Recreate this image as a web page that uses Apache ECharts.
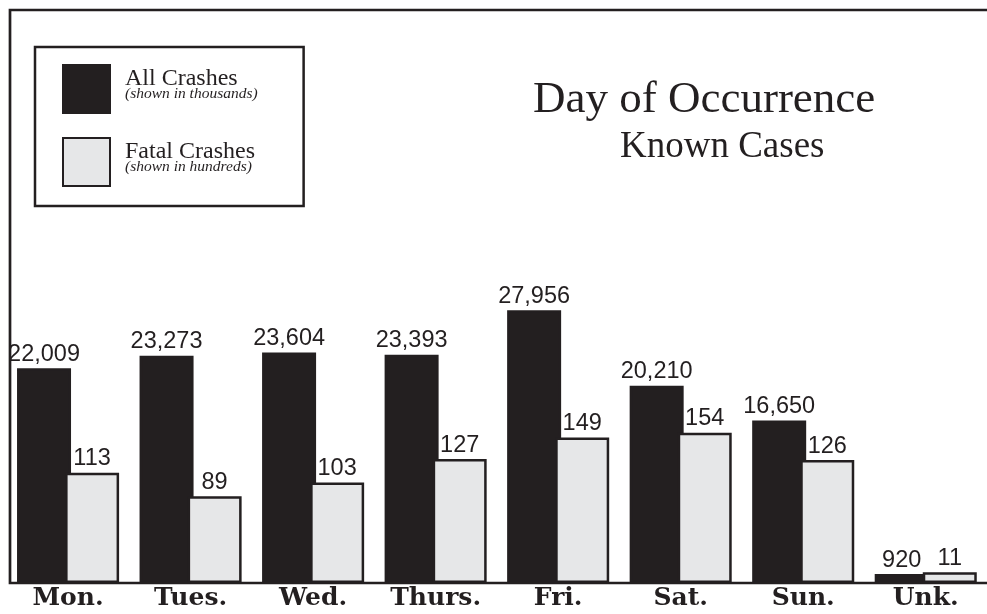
<!DOCTYPE html>
<html>
<head>
<meta charset="utf-8">
<script src="https://cdn.jsdelivr.net/npm/echarts@6/dist/echarts.min.js"></script>
<style>
  html, body { margin: 0; padding: 0; background: #fff; }
  #chart { width: 987px; height: 614px; }
</style>
</head>
<body>
<div id="chart"></div>
<script>
var days = ['Mon.', 'Tues.', 'Wed.', 'Thurs.', 'Fri.', 'Sat.', 'Sun.', 'Unk.'];
var allCrashes = [22009, 23273, 23604, 23393, 27956, 20210, 16650, 920];
var fatalCrashes = [113, 89, 103, 127, 149, 154, 126, 11];

var ink = '#231f20';
var paleGrey = '#e6e7e8';

var chart = echarts.init(document.getElementById('chart'));

var option = {
    animation: false,
    backgroundColor: '#fff',
    title: [
        {
            text: 'Day of Occurrence',
            left: 533,
            top: 78,
            padding: 0,
            textStyle: { fontFamily: 'Liberation Serif', fontWeight: 'normal', fontSize: 45, color: ink }
        },
        {
            text: 'Known Cases',
            left: 620,
            top: 129,
            padding: 0,
            textStyle: { fontFamily: 'Liberation Serif', fontWeight: 'normal', fontSize: 37, color: ink }
        }
    ],
    legend: {
        orient: 'vertical',
        left: 35,
        top: 47,
        padding: [17, 46, 19, 27],
        borderColor: ink,
        borderWidth: 2.5,
        itemWidth: 47,
        itemHeight: 48,
        itemGap: 23,
        icon: 'rect',
        selectedMode: false,
        data: ['All Crashes', 'Fatal Crashes'],
        formatter: function (name) {
            var note = name === 'All Crashes' ? '(shown in thousands)' : '(shown in hundreds)';
            return '{a|' + name + '}\n{b|' + note + '}';
        },
        textStyle: {
            padding: [0, 0, 8, 10],
            rich: {
                a: { fontFamily: 'Liberation Serif', fontSize: 24, color: ink, lineHeight: 18 },
                b: { fontFamily: 'Liberation Serif', fontStyle: 'italic', fontSize: 15.5, color: ink, lineHeight: 13 }
            }
        }
    },
    grid: { left: 6.8, right: -7.2, top: 95, bottom: 31 },
    xAxis: {
        type: 'category',
        data: days,
        axisLine: { show: false },
        axisTick: { show: false },
        axisLabel: {
            margin: 3,
            fontFamily: 'DejaVu Serif',
            fontWeight: 'bold',
            fontSize: 25,
            color: ink
        }
    },
    yAxis: [
        { type: 'value', min: 0, max: 50000, show: false },
        { type: 'value', min: 0, max: 500, show: false }
    ],
    graphic: [
        {
            type: 'polyline',
            shape: { points: [[990, 10], [10, 10], [10, 583], [990, 583]] },
            style: { stroke: ink, lineWidth: 2.7, fill: null },
            z: 10
        }
    ],
    series: [
        {
            name: 'All Crashes',
            type: 'bar',
            yAxisIndex: 0,
            data: allCrashes,
            barWidth: 54,
            barGap: '-11%',
            itemStyle: { color: ink, borderColor: ink, borderWidth: 2.5 },
            label: {
                show: true,
                position: 'top',
                distance: 2,
                fontFamily: 'Liberation Sans',
                fontSize: 23.5,
                color: ink,
                formatter: function (p) { return echarts.format.addCommas(p.value); }
            }
        },
        {
            name: 'Fatal Crashes',
            type: 'bar',
            yAxisIndex: 1,
            data: fatalCrashes,
            barWidth: 54,
            barGap: '-11%',
            itemStyle: { color: paleGrey, borderColor: ink, borderWidth: 2.5 },
            label: {
                show: true,
                position: 'top',
                distance: 2,
                fontFamily: 'Liberation Sans',
                fontSize: 23.5,
                color: ink
            }
        }
    ]
};

chart.setOption(option);
</script>
</body>
</html>
